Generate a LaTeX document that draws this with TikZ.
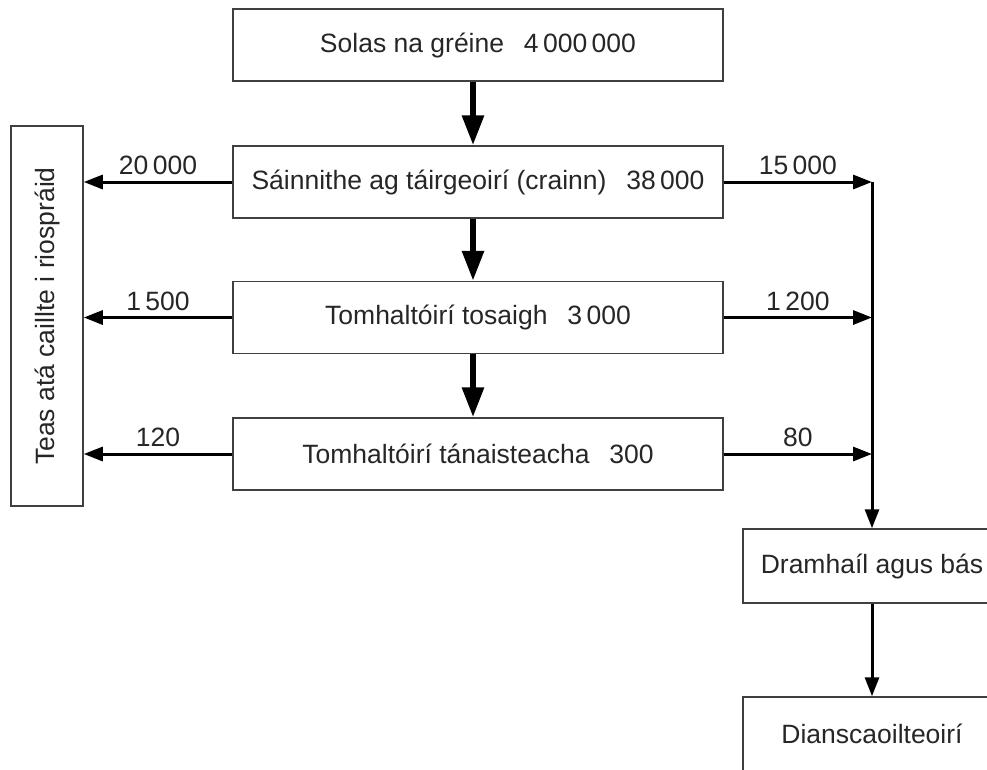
\documentclass[tikz,border=0pt]{standalone}
\usepackage{fontspec}
\setmainfont{Liberation Sans}
\usetikzlibrary{arrows.meta}

\begin{document}
\begin{tikzpicture}
	[
		x=1pt, y=-1pt,
		% Make a style for a box of the chain.
		box/.style={draw=black!75, line width=1.5pt, minimum width=490, minimum height=72,
			inner sep=0pt, font=\fontsize{26.5}{31}\selectfont, text=black!85},
		% And one for the thin arrows.
		flow/.style={line width=3pt, -{Triangle[length=19pt,width=14pt]}},
		% And one for the thick arrows.
		bigflow/.style={line width=6pt, -{Triangle[length=30pt,width=21pt]}},
		% Labels over the arrows.
		val/.style={font=\fontsize{26.5}{31}\selectfont, text=black!85, above=2pt}
	]
		\useasboundingbox (0,0) rectangle (987,769);
		\clip (0,0) rectangle (987,769);

		\node[box] (sun) at (478,45) {Solas na gréine\hspace{0.75em}4\,000\,000};
		\node[box] (prod) at (478,182) {Sáinnithe ag táirgeoirí (crainn)\hspace{0.75em}38\,000};
		\node[box] (prim) at (478,317.5) {Tomhaltóirí tosaigh\hspace{0.75em}3\,000};
		\node[box] (sec) at (478,454) {Tomhaltóirí tánaisteacha\hspace{0.75em}300};
		\node[box, rotate=90, minimum width=380] (heat) at (47,316) {Teas atá caillte i riospráid};
		\node[box, minimum width=258, minimum height=74] (waste) at (872,566) {Dramhaíl agus bás};
		\node[box, minimum width=258, minimum height=74] (decomp) at (872,734) {Dianscaoilteoirí};

		% Where the right arrows meet the down line
		\coordinate (j1) at (prod.east -| waste.north);
		\coordinate (j2) at (prim.east -| waste.north);
		\coordinate (j3) at (sec.east -| waste.north);

		% Draw the chain
		\draw[bigflow] ([xshift=-5pt]sun.south) -- ([xshift=-5pt]prod.north);
		\draw[bigflow] ([xshift=-5pt]prod.south) -- ([xshift=-5pt]prim.north);
		\draw[bigflow] ([xshift=-5pt]prim.south) -- ([xshift=-5pt]sec.north);

		% Heat lost
		\draw[flow] (prod.west) -- node[val] {20\,000} (prod.west -| heat.south);
		\draw[flow] (prim.west) -- node[val] {1\,500} (prim.west -| heat.south);
		\draw[flow] (sec.west) -- node[val] {120} (sec.west -| heat.south);

		% Waste and death
		\draw[flow] (prod.east) -- node[val] {15\,000} (j1);
		\draw[flow] (prim.east) -- node[val] {1\,200} (j2);
		\draw[flow] (sec.east) -- node[val] {80} (j3);
		\draw[flow] (j1) -- (waste.north);
		\draw[flow] (waste) -- (decomp);
	\end{tikzpicture}
\end{document}
